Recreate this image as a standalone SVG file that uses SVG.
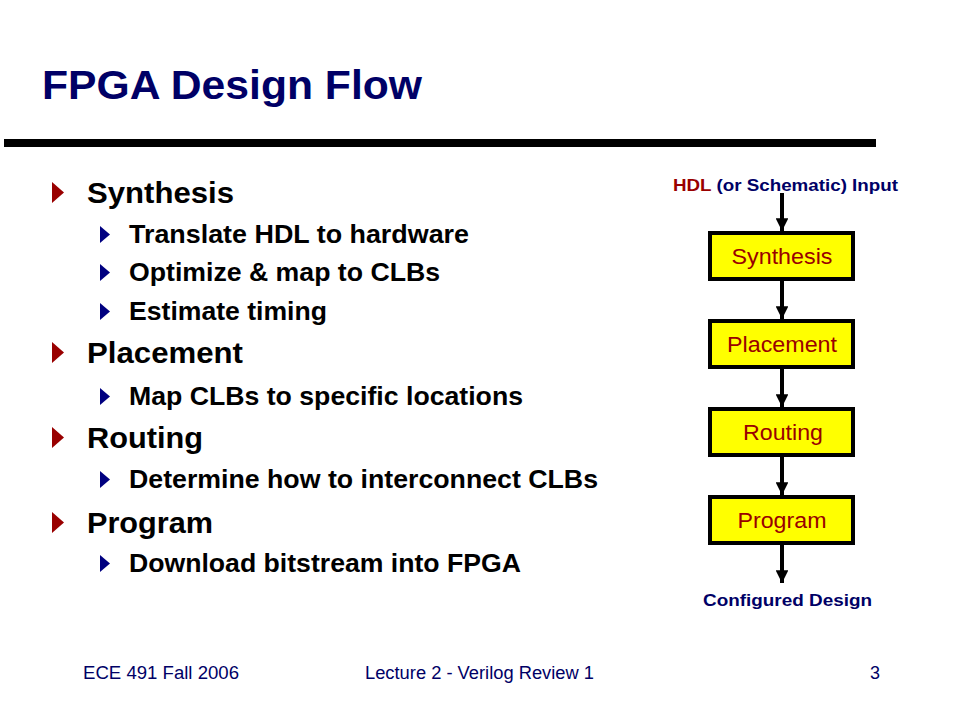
<svg xmlns="http://www.w3.org/2000/svg" width="960" height="720" viewBox="0 0 960 720">
<style>
.title{font-family:"Liberation Sans",Arial,sans-serif;font-weight:bold;font-size:40px;fill:#000066}
.h1{font-family:"Liberation Sans",Arial,sans-serif;font-weight:bold;font-size:30px;fill:#000000}
.h2{font-family:"Liberation Sans",Arial,sans-serif;font-weight:bold;font-size:25px;fill:#000000}
.b1{fill:#990000}
.b2{fill:#000080}
.foot{font-family:"Liberation Sans",Arial,sans-serif;font-size:18px;fill:#000066}
.box{fill:#FFFF00;stroke:#000000;stroke-width:4}
.boxt{font-family:"Liberation Sans",Arial,sans-serif;font-size:22px;fill:#990000;text-anchor:middle}
.lbl{font-family:"Liberation Sans",Arial,sans-serif;font-weight:bold;font-size:17px;fill:#000066}
.conn{stroke:#000000;stroke-width:4;fill:none}
</style>
<defs>
<marker id="ah" viewBox="0 0 10 10" refX="10" refY="5" markerWidth="3.6" markerHeight="3.2" orient="auto" markerUnits="strokeWidth">
<path d="M0,0 L10,5 L0,10 Z" fill="#000000"/>
</marker>
</defs>
<rect width="960" height="720" fill="#ffffff"/>
<text class="title" x="42" y="99" textLength="380" lengthAdjust="spacingAndGlyphs">FPGA Design Flow</text>
<rect x="4" y="139" width="872" height="8" fill="#000000"/>

<g id="bullets">
<polygon class="b1" points="52,182 64,192.5 52,203"/>
<text class="h1" x="87" y="203" textLength="147" lengthAdjust="spacingAndGlyphs">Synthesis</text>
<polygon class="b2" points="100,226 110,234.5 100,243"/>
<text class="h2" x="129" y="243" textLength="340" lengthAdjust="spacingAndGlyphs">Translate HDL to hardware</text>
<polygon class="b2" points="100,264 110,272.5 100,281"/>
<text class="h2" x="129" y="281" textLength="311" lengthAdjust="spacingAndGlyphs">Optimize &amp; map to CLBs</text>
<polygon class="b2" points="100,303 110,311.5 100,320"/>
<text class="h2" x="129" y="320" textLength="198" lengthAdjust="spacingAndGlyphs">Estimate timing</text>
<polygon class="b1" points="52,342 64,352.5 52,363"/>
<text class="h1" x="87" y="363" textLength="156" lengthAdjust="spacingAndGlyphs">Placement</text>
<polygon class="b2" points="100,388 110,396.5 100,405"/>
<text class="h2" x="129" y="405" textLength="394" lengthAdjust="spacingAndGlyphs">Map CLBs to specific locations</text>
<polygon class="b1" points="52,427 64,437.5 52,448"/>
<text class="h1" x="87" y="448" textLength="116" lengthAdjust="spacingAndGlyphs">Routing</text>
<polygon class="b2" points="100,471 110,479.5 100,488"/>
<text class="h2" x="129" y="488" textLength="469" lengthAdjust="spacingAndGlyphs">Determine how to interconnect CLBs</text>
<polygon class="b1" points="52,512 64,522.5 52,533"/>
<text class="h1" x="87" y="533" textLength="126" lengthAdjust="spacingAndGlyphs">Program</text>
<polygon class="b2" points="100,555 110,563.5 100,572"/>
<text class="h2" x="129" y="572" textLength="392" lengthAdjust="spacingAndGlyphs">Download bitstream into FPGA</text>
</g>

<g id="connectors">
<line class="conn" x1="782" y1="193" x2="782" y2="231" marker-end="url(#ah)"/>
<line class="conn" x1="782" y1="281" x2="782" y2="319" marker-end="url(#ah)"/>
<line class="conn" x1="782" y1="369" x2="782" y2="407" marker-end="url(#ah)"/>
<line class="conn" x1="782" y1="457" x2="782" y2="495" marker-end="url(#ah)"/>
<line class="conn" x1="782" y1="545" x2="782" y2="583" marker-end="url(#ah)"/>
</g>

<g id="input-label">
<text class="lbl" x="673" y="191" textLength="225" lengthAdjust="spacingAndGlyphs"><tspan fill="#990000">HDL</tspan> (or Schematic) Input</text>
</g>
<g id="synthesis">
<rect class="box" x="710" y="233" width="143" height="46"/>
<text class="boxt" x="782" y="264" textLength="101" lengthAdjust="spacingAndGlyphs">Synthesis</text>
</g>
<g id="placement">
<rect class="box" x="710" y="321" width="143" height="46"/>
<text class="boxt" x="782" y="352" textLength="110" lengthAdjust="spacingAndGlyphs">Placement</text>
</g>
<g id="routing">
<rect class="box" x="710" y="409" width="143" height="46"/>
<text class="boxt" x="783" y="440" textLength="80" lengthAdjust="spacingAndGlyphs">Routing</text>
</g>
<g id="program">
<rect class="box" x="710" y="497" width="143" height="46"/>
<text class="boxt" x="782" y="528" textLength="89" lengthAdjust="spacingAndGlyphs">Program</text>
</g>
<g id="output-label">
<text class="lbl" x="703" y="606" textLength="169" lengthAdjust="spacingAndGlyphs">Configured Design</text>
</g>

<text class="foot" x="83" y="679" textLength="156" lengthAdjust="spacingAndGlyphs">ECE 491 Fall 2006</text>
<text class="foot" x="365" y="679" textLength="229" lengthAdjust="spacingAndGlyphs">Lecture 2 - Verilog Review 1</text>
<text class="foot" x="870" y="679">3</text>
</svg>
